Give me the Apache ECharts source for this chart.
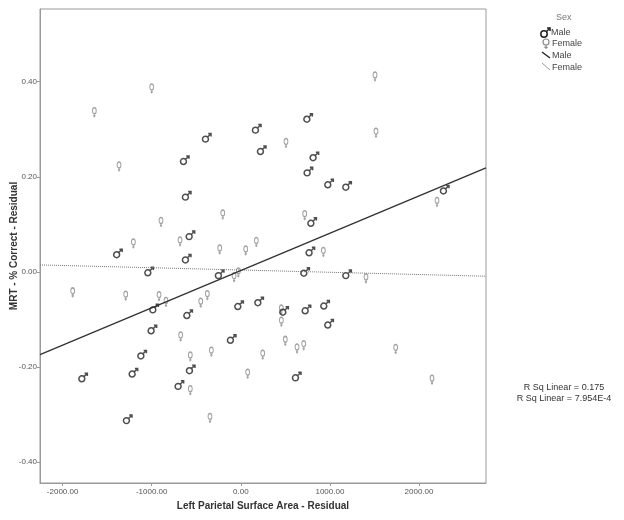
<!DOCTYPE html>
<html><head><meta charset="utf-8">
<script src="https://cdn.jsdelivr.net/npm/echarts@6/dist/echarts.min.js"></script>
<style>html,body{margin:0;padding:0;background:#fff}#c{width:624px;height:520px}</style>
</head><body><div id="c"></div>
<script>
// ---- data ----
const maleX = [163,-398,219,-645,-623,-581,-1395,-623,-1045,-253,-989,-35,190,-607,-1008,-118,-1123,-1786,-1221,-578,-705,-1285,
  740,810,743,975,1177,2273,785,765,706,1177,470,721,930,975,612];
const maleY = [0.298,0.279,0.253,0.232,0.157,0.074,0.036,0.025,-0.002,-0.008,-0.080,-0.073,-0.065,-0.092,-0.124,-0.144,-0.177,-0.225,-0.215,-0.208,-0.241,-0.313,
  0.321,0.240,0.208,0.183,0.178,0.170,0.102,0.040,-0.003,-0.008,-0.085,-0.082,-0.072,-0.112,-0.223];
const femaleX = [-1000,-1644,-1367,-203,-896,-1206,-682,174,-237,55,-28,-76,-1887,-1292,-918,-840,-376,-450,-675,-331,246,-567,77,-567,-346,
  1506,507,1517,2202,717,926,1405,455,455,499,631,706,1738,2146];
const femaleY = [0.389,0.339,0.225,0.124,0.108,0.063,0.067,0.066,0.050,0.048,0.002,-0.008,-0.040,-0.047,-0.048,-0.060,-0.046,-0.062,-0.133,-0.165,-0.171,-0.175,-0.211,-0.246,-0.304,
  0.414,0.274,0.296,0.150,0.122,0.045,-0.011,-0.076,-0.102,-0.142,-0.158,-0.151,-0.159,-0.224];
const maleFit = [0.003, 7.85e-5];      // intercept, slope
const femaleFit = [0.004, -4.75e-6];   // intercept, slope
const xTicks = [-2000,-1000,0,1000,2000];
const yTicks = [-0.4,-0.2,0,0.2,0.4];
const xRange = [-2254, 2752];
const yRange = [-0.444, 0.553];
const legendTitle = 'Sex';
const legendLabels = ['Male','Female','Male','Female'];
const rsqLabels = ['R Sq Linear = 0.175','R Sq Linear = 7.954E-4'];
const xTitle = 'Left Parietal Surface Area - Residual';
const yTitle = 'MRT - % Correct - Residual';

// ---- symbols ----
const malePath = 'path://M0.8 7A3.2 3.2 0 1 0 7.2 7A3.2 3.2 0 1 0 0.8 7ZM6.3 4.7L10 1M7 1L10 1L10 4';
const femalePath = 'path://M0.5 3.5A3 3 0 1 0 6.5 3.5A3 3 0 1 0 0.5 3.5ZM3.5 6.5L3.5 10M1.8 8.5L5.2 8.5';

const zip = (a, b) => a.map((v, i) => [v, b[i]]);
const fitLine = f => xRange.map(x => [x, f[0] + f[1] * x]);

const chart = echarts.init(document.getElementById('c'), null, {renderer: 'canvas'});
const FONT = '"Liberation Sans", Arial, sans-serif';
const txt = (l, t, s, fill) => ({type: 'text', left: l, top: t, style: {text: s, font: '9px ' + FONT, fill: fill || '#444'}});
chart.setOption({
  animation: false,
  backgroundColor: '#fff',
  grid: {left: 40, right: 138, top: 9, bottom: 37, containLabel: false, outerBoundsMode: 'none',
         show: true, borderColor: '#9a9a9a', borderWidth: 1, backgroundColor: '#fff'},
  xAxis: {
    type: 'value', min: xRange[0], max: xRange[1],
    name: xTitle, nameLocation: 'middle', nameGap: 18, nameMoveOverlap: false,
    nameTextStyle: {fontFamily: FONT, fontWeight: 'bold', fontSize: 10, color: '#333', verticalAlign: 'top'},
    axisLine: {show: true, onZero: false, lineStyle: {color: '#9a9a9a'}},
    axisTick: {show: true, length: 3, customValues: xTicks, lineStyle: {color: '#9a9a9a'}},
    axisLabel: {customValues: xTicks, formatter: v => v.toFixed(2), fontFamily: FONT, fontSize: 8, color: '#555', margin: 5},
    splitLine: {show: false}
  },
  yAxis: {
    type: 'value', min: yRange[0], max: yRange[1],
    name: yTitle, nameLocation: 'middle', nameGap: 21, nameRotate: 90, nameMoveOverlap: false,
    nameTextStyle: {fontFamily: FONT, fontWeight: 'bold', fontSize: 10, color: '#333'},
    axisLine: {show: true, onZero: false, lineStyle: {color: '#9a9a9a'}},
    axisTick: {show: true, length: 3, customValues: yTicks, lineStyle: {color: '#9a9a9a'}},
    axisLabel: {customValues: yTicks, formatter: v => v.toFixed(2), fontFamily: FONT, fontSize: 8, color: '#555', margin: 3},
    splitLine: {show: false}
  },
  series: [
    {type: 'line', data: fitLine(femaleFit), symbol: 'none', silent: true,
     lineStyle: {color: '#777', width: 1, type: [1, 1]}},
    {type: 'line', data: fitLine(maleFit), symbol: 'none', silent: true,
     lineStyle: {color: '#333', width: 1.4}},
    {type: 'scatter', name: 'Female', data: zip(femaleX, femaleY), symbol: femalePath,
     symbolSize: [6, 9.5], symbolOffset: [0, 1.7], symbolKeepAspect: true,
     itemStyle: {color: 'rgba(0,0,0,0)', borderColor: '#8a8a8a', borderWidth: 1.2}},
    {type: 'scatter', name: 'Male', data: zip(maleX, maleY), symbol: malePath,
     symbolSize: [8.5, 8.5], symbolOffset: [1.4, -1.4], symbolKeepAspect: true,
     itemStyle: {color: 'rgba(0,0,0,0)', borderColor: '#222', borderWidth: 1.5}}
  ],
  graphic: [
    txt(556, 13, legendTitle, '#777'),
    {type: 'circle', shape: {cx: 544, cy: 34, r: 3.2}, style: {fill: 'none', stroke: '#222', lineWidth: 1.5}},
    {type: 'polyline', shape: {points: [[546.3, 31.7], [550, 28]]}, style: {fill: 'none', stroke: '#222', lineWidth: 1.5}},
    {type: 'polyline', shape: {points: [[547, 28], [550, 28], [550, 31]]}, style: {fill: 'none', stroke: '#222', lineWidth: 1.5}},
    txt(551, 28, legendLabels[0]),
    {type: 'circle', shape: {cx: 546, cy: 42, r: 3}, style: {fill: 'none', stroke: '#8a8a8a', lineWidth: 1.2}},
    {type: 'line', shape: {x1: 546, y1: 45, x2: 546, y2: 49}, style: {stroke: '#8a8a8a', lineWidth: 1.2}},
    {type: 'line', shape: {x1: 544.3, y1: 47.3, x2: 547.7, y2: 47.3}, style: {stroke: '#8a8a8a', lineWidth: 1.2}},
    txt(552, 39, legendLabels[1]),
    {type: 'line', shape: {x1: 542, y1: 52, x2: 550, y2: 58}, style: {stroke: '#222', lineWidth: 1.4}},
    txt(552, 51, legendLabels[2]),
    {type: 'line', shape: {x1: 542, y1: 63, x2: 550, y2: 70}, style: {stroke: '#999', lineWidth: 1}},
    txt(552, 63, legendLabels[3]),
    {type: 'text', x: 564, y: 388, style: {text: rsqLabels[0], font: '9px ' + FONT, fill: '#333', align: 'center', verticalAlign: 'middle'}},
    {type: 'text', x: 564, y: 399, style: {text: rsqLabels[1], font: '9px ' + FONT, fill: '#333', align: 'center', verticalAlign: 'middle'}}
  ]
});
</script></body></html>
